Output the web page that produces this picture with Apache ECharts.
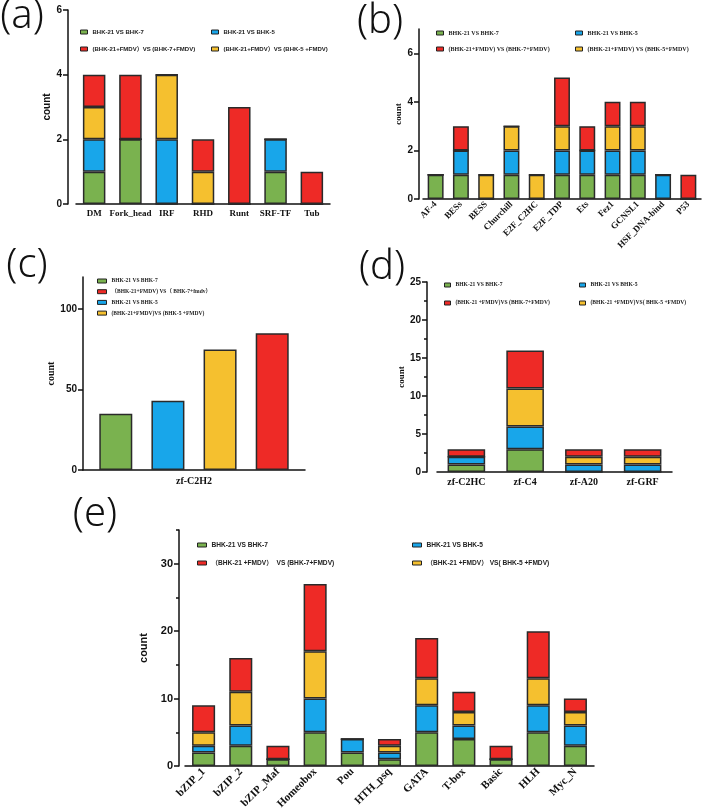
<!DOCTYPE html>
<html>
<head>
<meta charset="utf-8">
<script src="https://cdn.jsdelivr.net/npm/echarts@6/dist/echarts.min.js"></script>
<style>
html,body{margin:0;padding:0;background:#fff}
#main{width:708px;height:811px}
</style>
</head>
<body>
<div id="main"></div>
<script>
// green / blue / yellow / red
var colors = ['#7ab24f', '#18a6ea', '#f5c02f', '#ee2a26'];

// (a)
var catsA = ['DM', 'Fork_head', 'IRF', 'RHD', 'Runt', 'SRF-TF', 'Tub'];
var aGreen = [1, 2, 0, 0, 0, 1, 0];
var aBlue = [1, 0, 2, 0, 0, 1, 0];
var aYellow = [1, 0, 2, 1, 0, 0, 0];
var aRed = [1, 2, 0, 1, 3, 0, 1];
var namesA = ['BHK-21 VS BHK-7', 'BHK-21 VS BHK-5', '(BHK-21+FMDV）VS (BHK-5 +FMDV)', '(BHK-21+FMDV）VS (BHK-7+FMDV)'];

// (b)
var catsB = ['AF-4', 'BESs', 'BESS', 'Churchill', 'E2F_C2HC', 'E2F_TDP', 'Ets', 'Fez1', 'GCNSL1', 'HSF_DNA-bind', 'P53'];
var bGreen = [1, 1, 0, 1, 0, 1, 1, 1, 1, 0, 0];
var bBlue = [0, 1, 0, 1, 0, 1, 1, 1, 1, 1, 0];
var bYellow = [0, 0, 1, 1, 1, 1, 0, 1, 1, 0, 0];
var bRed = [0, 1, 0, 0, 0, 2, 1, 1, 1, 0, 1];
var namesB = ['BHK-21 VS BHK-7', 'BHK-21 VS BHK-5', '(BHK-21+FMDV) VS (BHK-5+FMDV)', '(BHK-21+FMDV) VS (BHK-7+FMDV)'];

// (c)
var catsC = ['zf-C2H2'];
var cGreen = [35];
var cBlue = [43];
var cYellow = [75];
var cRed = [85];
var namesC = ['BHK-21 VS BHK-7', 'BHK-21 VS BHK-5', '(BHK-21+FMDV)VS (BHK-5 +FMDV)', '（BHK-21+FMDV) VS（ BHK-7+fmdv）'];

// (d)
var catsD = ['zf-C2HC', 'zf-C4', 'zf-A20', 'zf-GRF'];
var dGreen = [1, 3, 0, 0];
var dBlue = [1, 3, 1, 1];
var dYellow = [0, 5, 1, 1];
var dRed = [1, 5, 1, 1];
var namesD = ['BHK-21 VS BHK-7', 'BHK-21 VS BHK-5', '(BHK-21 +FMDV)VS( BHK-5 +FMDV)', '(BHK-21 +FMDV)VS (BHK-7+FMDV)'];

// (e)
var catsE = ['bZIP_1', 'bZIP_2', 'bZIP_Maf', 'Homeobox', 'Pou', 'HTH_psq', 'GATA', 'T-box', 'Basic', 'HLH', 'Myc_N'];
var eGreen = [2, 3, 1, 5, 2, 1, 5, 4, 1, 5, 3];
var eBlue = [1, 3, 0, 5, 2, 1, 4, 2, 0, 4, 3];
var eYellow = [2, 5, 0, 7, 0, 1, 4, 2, 0, 4, 2];
var eRed = [4, 5, 2, 10, 0, 1, 6, 3, 2, 7, 2];
var namesE = ['BHK-21 VS BHK-7', 'BHK-21 VS BHK-5', '（BHK-21 +FMDV） VS( BHK-5 +FMDV)', '（BHK-21 +FMDV）  VS (BHK-7+FMDV)'];

var sans = 'Liberation Sans, Arial, Noto Sans CJK SC, sans-serif';
var serif = 'Liberation Serif, Times New Roman, Noto Sans CJK SC, serif';
var ink = '#111';

var series = [];
function addBars(gi, names, arrs, stack, bw, gap) {
    arrs.forEach(function (d, i) {
        series.push({
            type: 'bar', name: names[i], xAxisIndex: gi, yAxisIndex: gi,
            stack: stack, data: d, barWidth: bw, barGap: gap,
            itemStyle: { color: colors[i], borderColor: '#2a2a2a', borderWidth: 1.5 }
        });
    });
}
addBars(0, namesA, [aGreen, aBlue, aYellow, aRed], 'a', '62%');
addBars(1, namesB, [bGreen, bBlue, bYellow, bRed], 'b', '63%');
addBars(2, namesC, [cGreen, cBlue, cYellow, cRed], null, 33, '58%');
addBars(3, namesD, [dGreen, dBlue, dYellow, dRed], 'd', '64%');
addBars(4, namesE, [eGreen, eBlue, eYellow, eRed], 'e', '62%');

function xAx(gi, cats, font, size, rotate, margin) {
    return {
        type: 'category', gridIndex: gi, data: cats,
        axisLine: { lineStyle: { color: ink, width: 1.5 } },
        axisTick: { alignWithLabel: true, length: 4, lineStyle: { color: ink, width: 1.5 } },
        axisLabel: { color: '#111', fontFamily: font, fontWeight: 'bold', fontSize: size, rotate: rotate, margin: margin, interval: 0 }
    };
}
function yAx(gi, max, ticks, offset, nameFont, nameSize, nameGap, labelSize) {
    return {
        type: 'value', gridIndex: gi, min: 0, max: max, offset: offset, position: 'left',
        name: 'count', nameLocation: 'middle', nameGap: nameGap,
        nameTextStyle: { fontFamily: nameFont, fontWeight: 'bold', fontSize: nameSize, color: '#111' },
        splitLine: { show: false },
        axisLine: { show: true, lineStyle: { color: ink, width: 1.5 } },
        axisTick: { show: true, length: 5, customValues: ticks, lineStyle: { color: ink, width: 1.5 } },
        axisLabel: { customValues: ticks, margin: 6, color: '#111', fontFamily: sans, fontWeight: 'bold', fontSize: labelSize }
    };
}

function legendCol(left, top, names, font, size, iw, gap) {
    return {
        left: left, top: top, orient: 'vertical', padding: 0,
        itemWidth: iw, itemHeight: 4, itemGap: gap, icon: 'rect',
        data: names,
        itemStyle: { borderColor: '#222', borderWidth: 1 },
        textStyle: { fontFamily: font, fontWeight: 'bold', fontSize: size, color: '#222', lineHeight: 8 }
    };
}

function letter(t, x, y) {
    return {
        type: 'text', x: x, y: y,
        style: { text: t, fontSize: 40, fontWeight: 300, fontFamily: 'Noto Sans', fill: '#111', align: 'center', verticalAlign: 'middle' }
    };
}

var yE = yAx(4, 35, [0, 10, 20, 30], 6, sans, 11, 20, 11);
var yD = yAx(3, 25, null, 10, serif, 9, 19, 10);
yD.interval = 5;
yD.minorTick = { show: true, splitNumber: 2, length: 3, lineStyle: { color: ink, width: 1.5 } };

var option = {
    animation: false,
    backgroundColor: '#fff',
    grid: [
        { left: 76, top: 10, width: 254, height: 194, outerBoundsMode: 'none' },
        { left: 423, top: 29, width: 278, height: 170, outerBoundsMode: 'none' },
        { left: 83, top: 277, width: 222, height: 193, outerBoundsMode: 'none' },
        { left: 437, top: 282, width: 235, height: 190, outerBoundsMode: 'none' },
        { left: 185, top: 530, width: 409, height: 236, outerBoundsMode: 'none' }
    ],
    xAxis: [
        xAx(0, catsA, serif, 9, 0, 5),
        xAx(1, catsB, serif, 9, 45, 4),
        xAx(2, catsC, serif, 10, 0, 6),
        xAx(3, catsD, serif, 10, 0, 5),
        xAx(4, catsE, serif, 11, 45, 4)
    ],
    yAxis: [
        yAx(0, 6, [0, 2, 4, 6], 8, sans, 10, 10, 10),
        yAx(1, 7, [0, 2, 4, 6], 4, serif, 9, 12, 10),
        yAx(2, 120, [0, 50, 100], 0, serif, 10, 25, 10),
        yD,
        yE,
        {
            // minor ticks for (e)
            type: 'value', gridIndex: 4, min: 0, max: 35, offset: 6, position: 'left',
            splitLine: { show: false },
            axisLine: { show: false },
            axisLabel: { show: false },
            axisTick: { show: true, length: 3, customValues: [5, 15, 25, 35], lineStyle: { color: ink, width: 1.5 } }
        }
    ],
    legend: [
        legendCol(80, 28, [namesA[0], namesA[3]], sans, 6, 7, 9),
        legendCol(211, 28, [namesA[1], namesA[2]], sans, 6, 7, 9),
        legendCol(436, 29, [namesB[0], namesB[3]], serif, 6, 7, 8),
        legendCol(575, 29, [namesB[1], namesB[2]], serif, 6, 7, 8),
        legendCol(97, 277, [namesC[0], namesC[3], namesC[1], namesC[2]], serif, 5.5, 9, 2.7),
        legendCol(444, 281, [namesD[0], namesD[3]], serif, 5.6, 6, 10),
        legendCol(579, 281, [namesD[1], namesD[2]], serif, 5.6, 6, 10),
        legendCol(197, 541, [namesE[0], namesE[3]], sans, 6.6, 9, 10),
        legendCol(412, 541, [namesE[1], namesE[2]], sans, 6.6, 9, 10)
    ],
    graphic: [
        letter('(a)', 22, 17),
        letter('(b)', 380, 22),
        letter('(c)', 27, 266),
        letter('(d)', 382, 268),
        letter('(e)', 95, 515)
    ],
    series: series
};

var myChart = echarts.init(document.getElementById('main'));
myChart.setOption(option);
</script>
</body>
</html>
